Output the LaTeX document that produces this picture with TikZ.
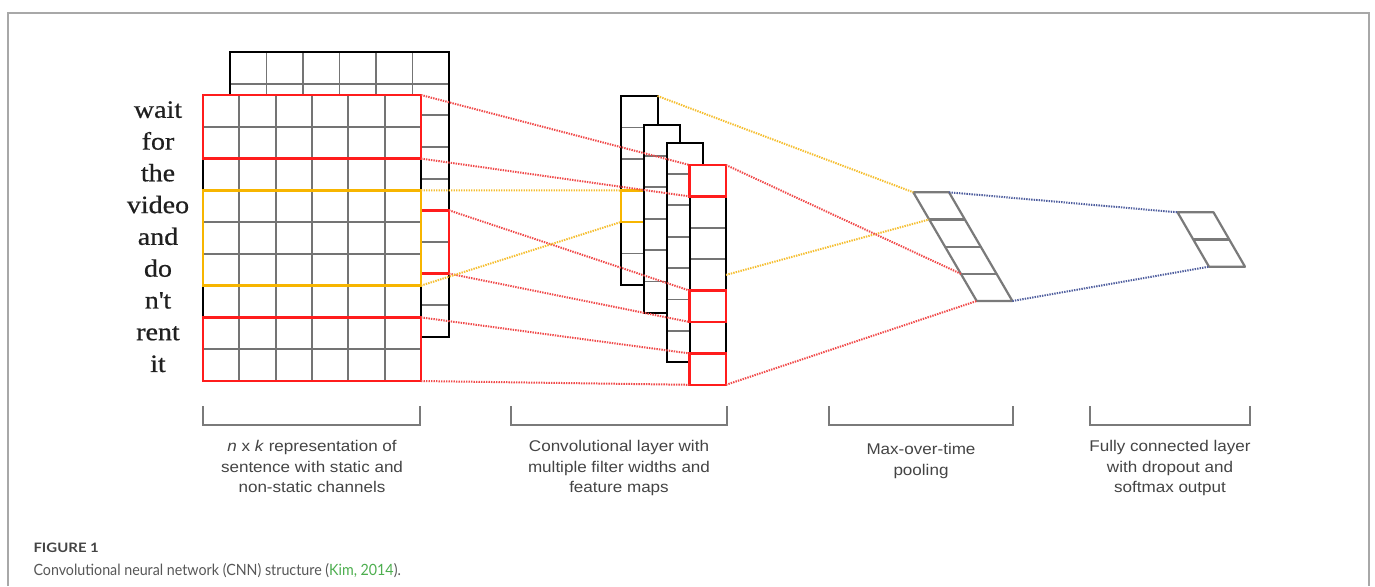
\documentclass[tikz,border=0pt]{standalone}
\usepackage{fontspec}
\usepackage{tikz}
\setmainfont{Liberation Serif}
\newfontfamily\wordfont[FakeStretch=1.12, FakeBold=0.6]{Liberation Serif}
\newfontfamily\labelfont[FakeStretch=1.1]{Liberation Sans}
\newfontfamily\capfont[FakeStretch=0.92]{Lato}
\newfontfamily\figfont[FakeStretch=1.15]{Lato}

\definecolor{boxred}{HTML}{FF1C1C}
\definecolor{boxyellow}{HTML}{F7B500}
\definecolor{dotred}{HTML}{F04A4A}
\definecolor{dotyellow}{HTML}{F5BE30}
\definecolor{dotblue}{HTML}{4F5E9E}
\definecolor{gridgray}{HTML}{747474}
\definecolor{poolgray}{HTML}{7A7A7A}
\definecolor{textgray}{HTML}{444444}
\definecolor{framegray}{HTML}{A8A8A8}
\definecolor{capgreen}{HTML}{4DAE4F}

\begin{document}
\begin{tikzpicture}[x=1pt, y=-1pt,
  word/.style={anchor=mid, text=black!88, font=\wordfont\fontsize{25}{25}\selectfont},
  mat/.style={draw=black, line width=2pt, fill=white, inner sep=0, outer sep=0, anchor=north west},
  gridline/.style={draw=gridgray, line width=1.8pt},
  redbox/.style={draw=boxred, line width=2.4pt, inner sep=0, outer sep=0, anchor=north west},
  ylwbox/.style={draw=boxyellow, line width=2.4pt, inner sep=0, outer sep=0, anchor=north west},
  fmap/.style={mat, minimum width=36.5},
  poolline/.style={draw=poolgray, line width=2.2pt, line join=round},
  reddot/.style={draw=dotred, line width=2pt, dash pattern=on 1.4pt off 1.1pt},
  ylwdot/.style={draw=dotyellow, line width=2pt, dash pattern=on 1.4pt off 1.1pt},
  bludot/.style={draw=dotblue, line width=2pt, dash pattern=on 1.4pt off 1.1pt},
  bracket/.style={draw=poolgray, line width=1.5pt},
  label/.style={anchor=north, align=center, text=textgray, font=\labelfont\fontsize{15.5}{20.5}\selectfont}]
\useasboundingbox (0,0) rectangle (1375,586);
\draw[framegray, line width=1.5pt] (8,586) -- (8,13) -- (1369,13) -- (1369,586);

\path (158,115.5) node[word] (w1) {wait}
      (158,147.3) node[word] (w2) {for}
      (158,179.0) node[word] (w3) {the}
      (158,210.8) node[word] (w4) {video}
      (158,242.6) node[word] (w5) {and}
      (158,274.4) node[word] (w6) {do}
      (158,306.2) node[word] (w7) {n\textquotesingle t}
      (158,337.9) node[word] (w8) {rent}
      (158,369.7) node[word] (w9) {it};

\node[mat, minimum width=219, minimum height=285] (back) at (230,52) {};
\foreach \k in {1,...,8} \draw[gridline] (230,{52+\k*31.667}) -- (449,{52+\k*31.667});
\foreach \k in {1,...,5} \draw[gridline] ({230+\k*36.5},52) -- ({230+\k*36.5},337);
\draw[black, line width=2pt] (back.north west) rectangle (back.south east);

\node[mat, minimum width=218, minimum height=286] (front) at (203,95) {};
\foreach \k in {1,...,8} \draw[gridline] (203,{95+\k*31.778}) -- (421,{95+\k*31.778});
\foreach \k in {1,...,5} \draw[gridline] ({203+\k*36.333},95) -- ({203+\k*36.333},381);
\draw[black, line width=2pt] (front.north west) rectangle (front.south east);

\node[redbox, minimum width=28, minimum height=63.3] (br) at (421,210.3) {};
\node[redbox, minimum width=218, minimum height=63.6] (fr1) at (203,95) {};
\node[redbox, minimum width=218, minimum height=63.6] (fr2) at (203,317.4) {};
\node[ylwbox, minimum width=218, minimum height=95.3] (fy) at (203,190.3) {};

\node[fmap, minimum height=189] (m1) at (621,96) {};
\foreach \k in {1,...,5} \draw[gridline] (621,{96+\k*31.5}) -- ++(36.5,0);
\draw[black, line width=2pt] (m1.north west) rectangle (m1.south east);
\node[ylwbox, minimum width=36.5, minimum height=31.5] (m1y) at (621,190.5) {};

\foreach \n/\x/\y/\r in {m2/643.5/124.5/6, m3/666.5/142.5/7, m4/689.5/165/7} {
  \node[fmap, minimum height=\r*31.4] (\n) at (\x,\y) {};
  \foreach \k in {1,...,\r} \draw[gridline] (\x,{\y+\k*31.4}) -- ++(36.5,0);
  \draw[black, line width=2pt] (\n.north west) rectangle (\n.south east);
}
\node[redbox, minimum width=36.5, minimum height=31.4] (m4a) at (689.5,165) {};
\node[redbox, minimum width=36.5, minimum height=31.4] (m4b) at (689.5,290.6) {};
\node[redbox, minimum width=36.5, minimum height=31.4] (m4c) at (689.5,353.4) {};

\foreach \k in {0,...,4} {
  \coordinate (p\k) at ({913.3+\k*15.85},{192.3+\k*27.175});
  \coordinate (q\k) at ({949+\k*15.85},{192.3+\k*27.175});
}
\draw[poolline] (p0) -- (q0) -- (q4) -- (p4) -- cycle;
\foreach \k in {1,2,3} \draw[poolline] (p\k) -- (q\k);

\foreach \k in {0,1,2} {
  \coordinate (f\k) at ({1177.5+\k*15.75},{212.3+\k*27.2});
  \coordinate (g\k) at ({1213.5+\k*15.75},{212.3+\k*27.2});
}
\draw[poolline] (f0) -- (g0) -- (g2) -- (f2) -- cycle;
\draw[poolline] (f1) -- (g1);

\draw[reddot] (fr1.north east) -- (m4a.north west);
\draw[reddot] (fr1.south east) -- (m4a.south west);
\draw[reddot] (br.north east) -- (m4b.north west);
\draw[reddot] (br.south east) -- (m4b.south west);
\draw[reddot] (fr2.north east) -- (m4c.north west);
\draw[reddot] (fr2.south east) -- (m4c.south west);
\draw[ylwdot] (fy.north east) -- (m1y.north west);
\draw[ylwdot] (fy.south east) -- (m1y.south west);
\draw[ylwdot] (m1.north east) -- (p0);
\draw[ylwdot] (m4.east) -- (p1);
\draw[reddot] (m4a.north east) -- (p3);
\draw[reddot] (m4c.south east) -- (p4);
\draw[bludot] (q0) -- (f0);
\draw[bludot] (q4) -- (f2);

\foreach \a/\b in {203/420, 511/727, 829/1013, 1090/1250}
  \draw[bracket] (\a,406) -- (\a,425) -- (\b,425) -- (\b,406);

\node[label] (l1) at (312,437) {\textit{n} x \textit{k} representation of\\sentence with static and\\non-static channels};
\node[label] (l2) at (619,437) {Convolutional layer with\\multiple filter widths and\\feature maps};
\node[label] (l3) at (921,440) {Max-over-time\\pooling};
\node[label] (l4) at (1170,437) {Fully connected layer\\with dropout and\\softmax output};

\node[anchor=base west, text=textgray, font=\figfont\bfseries\fontsize{13}{14}\selectfont] (fig) at (30,552) {FIGURE 1};
\node[anchor=base west, text=textgray!90, font=\capfont\fontsize{15.5}{16}\selectfont] (cap) at (30,575) {Convolutional neural network (CNN) structure (\textcolor{capgreen}{Kim, 2014}).};
\end{tikzpicture}
\end{document}
